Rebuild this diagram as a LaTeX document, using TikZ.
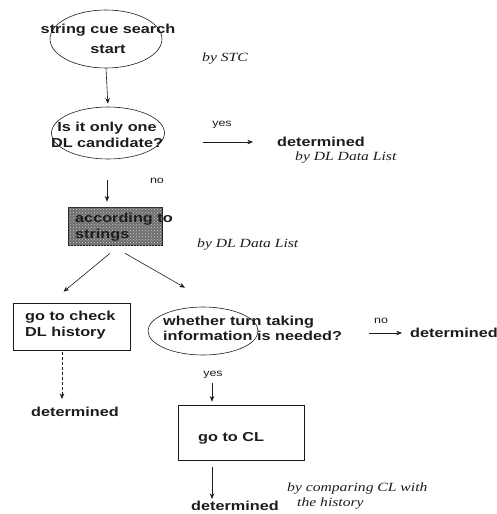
\documentclass[tikz,border=0pt]{standalone}
\usepackage{fontspec}
\setmainfont{Liberation Serif}
\newfontfamily\dlsans[FakeStretch=1.25]{Liberation Sans}
\newfontfamily\dlserif[FakeStretch=1.25]{Liberation Serif}
\usepackage{tikz}
\usetikzlibrary{
  arrows.meta,
  shapes.geometric,
  positioning,
  patterns
}
\definecolor{dlInk}{HTML}{1C1C1C}
\definecolor{dlShade}{HTML}{6E6E6E}
\definecolor{dlDots}{HTML}{C8C8C8}
\tikzset{
  steptext/.style={
    font=\dlsans\bfseries\fontsize{13}{15.5}\selectfont, align=left,
    inner sep=0pt, text=dlInk
  },
  dloval/.style={draw=dlInk, ellipse, semithick, inner sep=0pt},
  dlbox/.style={draw=dlInk, semithick, inner sep=0pt},
  shadebox/.style={dlbox, fill=dlShade, postaction={pattern=crosshatch dots, pattern color=dlDots}},
  bytag/.style={font=\dlserif\itshape\fontsize{12.5}{15}\selectfont, align=left, inner sep=0pt, text=dlInk},
  answer/.style={font=\dlsans\fontsize{10}{12}\selectfont, inner sep=0pt, text=dlInk},
  flow/.style={-{Stealth[length=2mm, width=1.6mm]}, semithick, dlInk},
  weakflow/.style={flow, densely dashed}
}

\begin{document}
\begin{tikzpicture}[x=1pt, y=-1pt]
  \useasboundingbox (0,0) rectangle (497,514);

  \node[dloval, minimum width=112pt, minimum height=58pt] (start) at (106,39) {};
  \node[steptext, align=center] (starttxt) at (108,39) {string cue search\\[4pt]start};
  \node[dloval, minimum width=113pt, minimum height=52pt] (one) at (108,133) {};
  \node[steptext, align=center] (onetxt) at (107,135) {Is it only one\\DL candidate?};
  \node[shadebox, minimum width=94pt, minimum height=38pt] (rule) at (115,226) {};
  \node[steptext, anchor=west] (ruletxt) at (75,227) {according to\\strings};
  \node[dlbox, minimum width=117pt, minimum height=47pt] (check) at (71.5,326.5) {};
  \node[steptext, anchor=west] (checktxt) at (25,325) {go to check\\DL history};
  \node[dloval, minimum width=110pt, minimum height=48pt] (ask) at (203,331) {};
  \node[steptext, anchor=west] (asktxt) at (163,328.5) {whether turn taking\\information is needed?};
  \node[dlbox, minimum width=126pt, minimum height=55pt] (gocl) at (241,432.5) {};
  \node[steptext, anchor=west] (gocltxt) at (198,438) {go to CL};

  \node[steptext, anchor=west] (detA) at (277,142) {determined};
  \node[steptext, anchor=west] (detB) at (410,333) {determined};
  \node[steptext] (detC) at (75,412) {determined};
  \node[steptext] (detD) at (235,506) {determined};

  \node[bytag] (bySTC) at (225,59) {by STC};
  \node[bytag, anchor=west] (byListA) at (295,158) {by DL Data List};
  \node[bytag, anchor=west] (byListB) at (197,245) {by DL Data List};
  \node[bytag, anchor=west] (byHist) at (287,496.5) {by comparing CL with\\\hspace*{10pt}the history};

  \node[answer] (yesA) at (222,125) {yes};
  \node[answer] (noA) at (157,181) {no};
  \node[answer] (noB) at (381,321) {no};
  \node[answer] (yesB) at (213,375) {yes};

  \draw[flow, shorten >=3pt] (start.south) -- (one.north);
  \draw[flow, shorten <=38pt, shorten >=24pt] (one.east |- detA) -- (detA.west);
  \draw[flow, shorten <=21pt, shorten >=5pt] ([xshift=-1pt]one.south) -- ([xshift=-8pt]rule.north);
  \draw[flow] ([xshift=-5pt, yshift=-8pt]rule.south) -- ([xshift=-8pt, yshift=11pt]check.north);
  \draw[flow] ([xshift=10pt, yshift=-8pt]rule.south) -- ([xshift=-18pt, yshift=19pt]ask.north);
  \draw[flow, shorten <=27pt, shorten >=8pt] (asktxt.east |- detB) -- (detB.west);
  \draw[weakflow, shorten <=2pt, shorten >=8pt] ([xshift=-9.5pt]check.south) -- ([xshift=-13pt]detC.north);
  \draw[flow, shorten <=28pt, shorten >=3pt] ([xshift=9pt]ask.south) -- ([xshift=-29pt]gocl.north);
  \draw[flow, shorten <=7pt, shorten >=2pt] ([xshift=-29pt]gocl.south) -- ([xshift=-23pt]detD.north);
\end{tikzpicture}
\end{document}
